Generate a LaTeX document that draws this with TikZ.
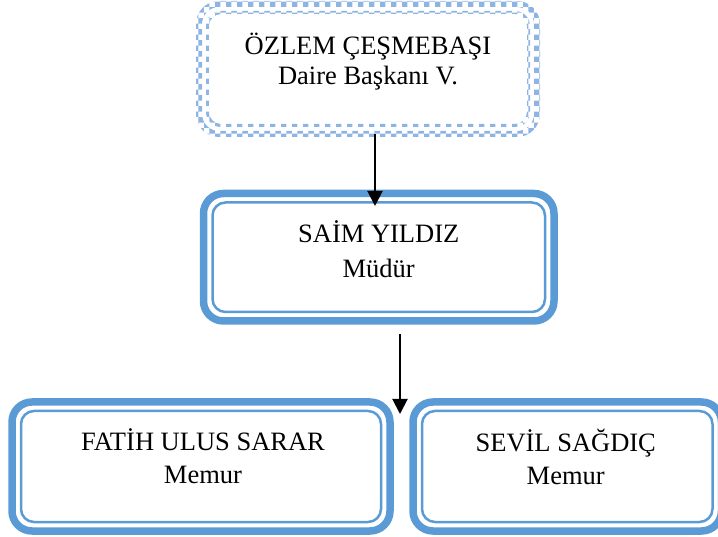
\documentclass[tikz,border=0pt]{standalone}
\usepackage{fontspec}
\setmainfont{Liberation Serif}
\usetikzlibrary{arrows.meta,patterns}
\definecolor{kutumavi}{HTML}{5B9BD5}
\definecolor{kareli}{HTML}{8DB4E2}
\tikzset{
	kutu/.style={draw=kutumavi, line width=7.5pt, rounded corners=20pt, outer sep=0pt, inner sep=0pt},
	bos/.style={outer sep=0pt, inner sep=0pt},
	icizgi/.style={draw=kutumavi, line width=2.5pt, rounded corners=13pt},
	bantkareli/.style={even odd rule, fill=kareli!45, pattern=checkerboard, pattern color=kareli},
	yazi/.style={align=center, font=\fontsize{26.5}{30}\selectfont},
	ok/.style={line width=2pt, -{Triangle[width=15pt,length=15pt]}}
}
\begin{document}
\begin{tikzpicture}[x=1pt,y=-1pt]
			\useasboundingbox (0,0) rectangle (718,537);
			\clip (0,0) rectangle (718,537);
			%Level 0
			\node[bos, minimum width=338pt, minimum height=130pt] (baskan) at (368,69) {};
			\fill[bantkareli, rounded corners=23pt] ([shift={(-3pt,3pt)}]baskan.north west) rectangle ([shift={(3pt,-3pt)}]baskan.south east)
				[rounded corners=17pt] ([shift={(3pt,-3pt)}]baskan.north west) rectangle ([shift={(-3pt,3pt)}]baskan.south east);
			\fill[bantkareli, rounded corners=15pt] ([shift={(7pt,-7pt)}]baskan.north west) rectangle ([shift={(-7pt,7pt)}]baskan.south east)
				[rounded corners=12pt] ([shift={(10pt,-10pt)}]baskan.north west) rectangle ([shift={(-10pt,10pt)}]baskan.south east);
			\node[yazi] (baskanyazi) at ([yshift=7pt]baskan.center) {ÖZLEM ÇEŞMEBAŞI\\Daire Başkanı V.};
			%Level 1
			\node[kutu, minimum width=350.5pt, minimum height=127.5pt] (mudur) at (378.75,257.25) {};
			\node[yazi] (muduryazi) at ([yshift=8pt]mudur.center) {SAİM YILDIZ\\[5pt]Müdür};
			%Level 2
			\node[kutu, minimum width=378pt, minimum height=129pt] (memura) at (201,466.5) {};
			\node[kutu, minimum width=308.5pt, minimum height=129pt] (memurb) at (567.25,466.5) {};
			\node[yazi] (memurayazi) at ([shift={(2pt,10pt)}]memura.center) {FATİH ULUS SARAR\\[3pt]Memur};
			\node[yazi] (memurbyazi) at ([shift={(-1.5pt,10pt)}]memurb.center) {SEVİL SAĞDIÇ\\[3pt]Memur};
			\foreach \k in {mudur,memura,memurb}
				\draw[icizgi] ([shift={(9pt,-9pt)}]\k.north west) rectangle ([shift={(-9pt,9pt)}]\k.south east);
			%Arrows
			\coordinate (ok1) at (375,206);
			\coordinate (ok2) at (400,414);
			\draw[ok] (baskan.south -| ok1) -- (ok1);
			\draw[ok] (mudur.south -| ok2) ++(0,13) -- (ok2);
\end{tikzpicture}
\end{document}
